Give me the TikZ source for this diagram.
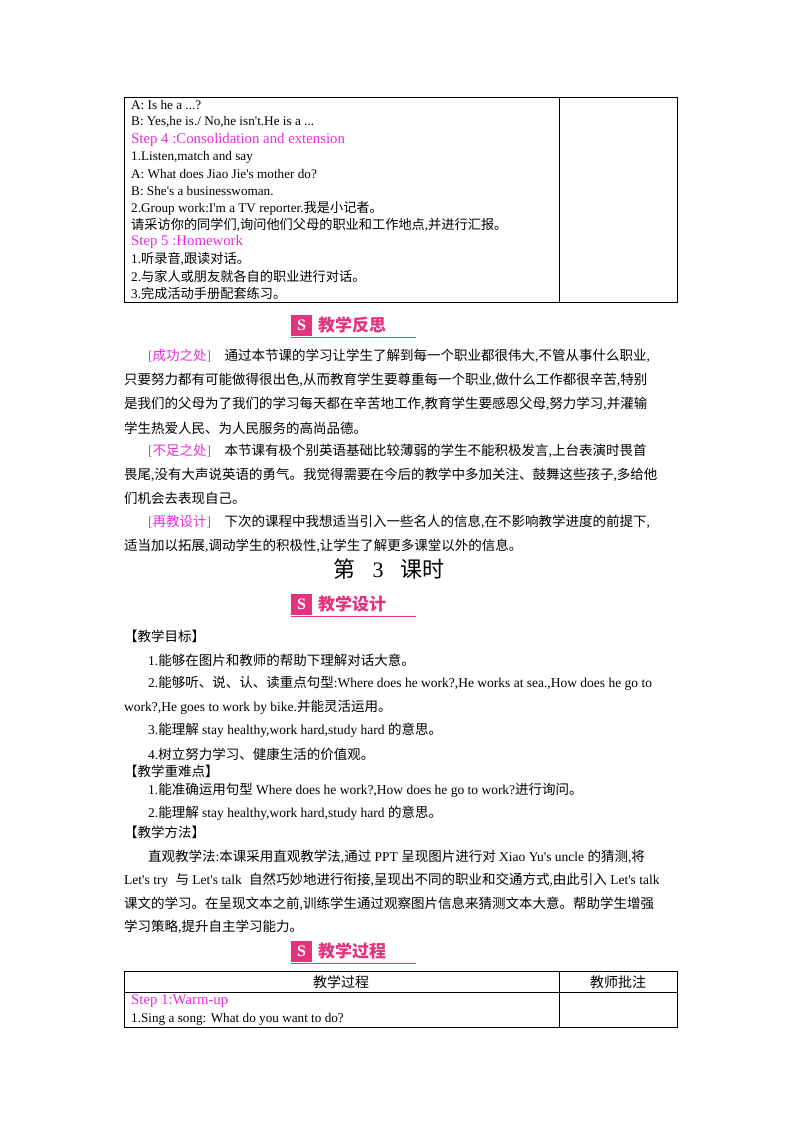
\documentclass[tikz,border=0pt]{standalone}
\usepackage{fontspec}
\setmainfont{Liberation Serif}
\newfontfamily\cjk{Noto Sans CJK SC}
\newcommand\zh[1]{{\cjk #1}}
\newcommand\q{\textquotesingle}
\definecolor{pk}{HTML}{E82BE0}
\definecolor{bpk}{HTML}{E3337F}
\begin{document}
\begin{tikzpicture}[x=1pt,y=-1pt,
  tl/.style={anchor=west,inner sep=0pt,font=\fontsize{13.2}{14}\selectfont},
  st/.style={anchor=west,inner sep=0pt,text=pk,font=\fontsize{14.8}{16}\selectfont},
  bl/.style={anchor=west,inner sep=0pt,font=\fontsize{13.5}{16}\selectfont},
  badgetxt/.style={anchor=west,inner sep=0pt,text=bpk,font=\cjk\bfseries\fontsize{17}{18}\selectfont},
  frame/.style={draw,line width=0.8pt}]
\useasboundingbox (0,0) rectangle (800,1132);
\newcommand\badge[3]{%
  \fill[bpk] (#1,#2-10) rectangle (#1+21,#2+11);
  \node[inner sep=0pt,text=white,font=\bfseries\fontsize{16}{16}\selectfont] (#3i) at (#1+10.5,#2+0.5) {S};
  \draw[bpk,line width=0.8pt] (#1,#2+12) -- (#1+125,#2+12);}
% top table
\draw[frame] (124,97) rectangle (677,302);
\draw[frame] (559,97) -- (559,302);
\node[tl] (a1) at (131,105) {A: Is he a ...?};
\node[tl] (a2) at (131,122) {B: Yes,he is./ No,he isn\q t.He is a ...};
\node[st] (a3) at (131,140) {Step 4 :Consolidation and extension};
\node[tl] (a4) at (131,157) {1.Listen,match and say};
\node[tl] (a5) at (131,174) {A: What does Jiao Jie\q s mother do?};
\node[tl] (a6) at (131,191) {B: She\q s a businesswoman.};
\node[tl] (a7) at (131,208) {2.Group work:I\q m a TV reporter.\zh{我是小记者。}};
\node[tl] (a8) at (131,225) {\zh{请采访你的同学们}{,}\zh{询问他们父母的职业和工作地点}{,}\zh{并进行汇报。}};
\node[st] (a9) at (131,242) {Step 5 :Homework};
\node[tl] (a10) at (131,259) {1.\zh{听录音}{,}\zh{跟读对话。}};
\node[tl] (a11) at (131,276) {2.\zh{与家人或朋友就各自的职业进行对话。}};
\node[tl] (a12) at (131,293) {3.\zh{完成活动手册配套练习。}};
% badge 1
\badge{291}{325}{b1}
\node[badgetxt] (b1t) at (318,325) {教学反思};
\node[bl] (p1) at (148,356) {\textcolor{pk}{[\zh{成功之处}]}\quad \zh{通过本节课的学习让学生了解到每一个职业都很伟大}{,}\zh{不管从事什么职业}{,}};
\node[bl] (p2) at (124,380) {\zh{只要努力都有可能做得很出色}{,}\zh{从而教育学生要尊重每一个职业}{,}\zh{做什么工作都很辛苦}{,}\zh{特别}};
\node[bl] (p3) at (124,404) {\zh{是我们的父母为了我们的学习每天都在辛苦地工作}{,}\zh{教育学生要感恩父母}{,}\zh{努力学习}{,}\zh{并灌输}};
\node[bl] (p4) at (124,428) {\zh{学生热爱人民、为人民服务的高尚品德。}};
\node[bl] (p5) at (148,451) {\textcolor{pk}{[\zh{不足之处}]}\quad \zh{本节课有极个别英语基础比较薄弱的学生不能积极发言}{,}\zh{上台表演时畏首}};
\node[bl] (p6) at (124,475) {\zh{畏尾}{,}\zh{没有大声说英语的勇气。我觉得需要在今后的教学中多加关注、鼓舞这些孩子}{,}\zh{多给他}};
\node[bl] (p7) at (124,498) {\zh{们机会去表现自己。}};
\node[bl] (p8) at (148,522) {\textcolor{pk}{[\zh{再教设计}]}\quad \zh{下次的课程中我想适当引入一些名人的信息}{,}\zh{在不影响教学进度的前提下}{,}};
\node[bl] (p9) at (124,546) {\zh{适当加以拓展}{,}\zh{调动学生的积极性}{,}\zh{让学生了解更多课堂以外的信息。}};
% title
\node[inner sep=0pt,font=\cjk\fontsize{22}{24}\selectfont] (t) at (389,569) {第\hspace{17pt}{\fontspec{Liberation Serif}3}\hspace{17pt}课时};
\badge{291}{604}{b2}
\node[badgetxt] (b2t) at (318,604) {教学设计};
\node[bl] (h1) at (124,636) {\zh{【教学目标】}};
\node[bl] (g1) at (148,660) {1.\zh{能够在图片和教师的帮助下理解对话大意。}};
\node[bl] (g2) at (148,683) {2.\zh{能够听、说、认、读重点句型}:Where does he work?,He works at sea.,How does he go to};
\node[bl] (g2b) at (124,707) {work?,He goes to work by bike.\zh{并能灵活运用。}};
\node[bl] (g3) at (148,730) {3.\zh{能理解} stay healthy,work hard,study hard \zh{的意思。}};
\node[bl] (g4) at (148,754) {4.\zh{树立努力学习、健康生活的价值观。}};
\node[bl] (h2) at (124,771) {\zh{【教学重难点】}};
\node[bl] (k1) at (148,790) {1.\zh{能准确运用句型} Where does he work?,How does he go to work?\zh{进行询问。}};
\node[bl] (k2) at (148,813) {2.\zh{能理解} stay healthy,work hard,study hard \zh{的意思。}};
\node[bl] (h3) at (124,832) {\zh{【教学方法】}};
\node[bl] (m1) at (148,857) {\zh{直观教学法}:\zh{本课采用直观教学法}{,}\zh{通过} PPT \zh{呈现图片进行对} Xiao Yu\q s uncle \zh{的猜测}{,}\zh{将}};
\node[bl] (m2) at (124,880) {Let\q s try\hspace{4pt} \zh{与} Let\q s talk\hspace{4pt} \zh{自然巧妙地进行衔接}{,}\zh{呈现出不同的职业和交通方式}{,}\zh{由此引入} Let\q s talk};
\node[bl] (m3) at (124,904) {\zh{课文的学习。在呈现文本之前}{,}\zh{训练学生通过观察图片信息来猜测文本大意。帮助学生增强}};
\node[bl] (m4) at (124,927) {\zh{学习策略}{,}\zh{提升自主学习能力。}};
\badge{291}{951}{b3}
\node[badgetxt] (b3t) at (318,951) {教学过程};
% bottom table
\draw[frame] (124,971) rectangle (677,1027);
\draw[frame] (124,992) -- (677,992);
\draw[frame] (559,971) -- (559,1027);
\node[inner sep=0pt,font=\cjk\fontsize{14}{16}\selectfont] (c1) at (341,982) {教学过程};
\node[inner sep=0pt,font=\cjk\fontsize{14}{16}\selectfont] (c2) at (618,982) {教师批注};
\node[st] (s1) at (131,1001) {Step 1:Warm-up};
\node[tl] (s2) at (131,1019) {1.Sing a song: What do you want to do?};
\end{tikzpicture}
\end{document}
